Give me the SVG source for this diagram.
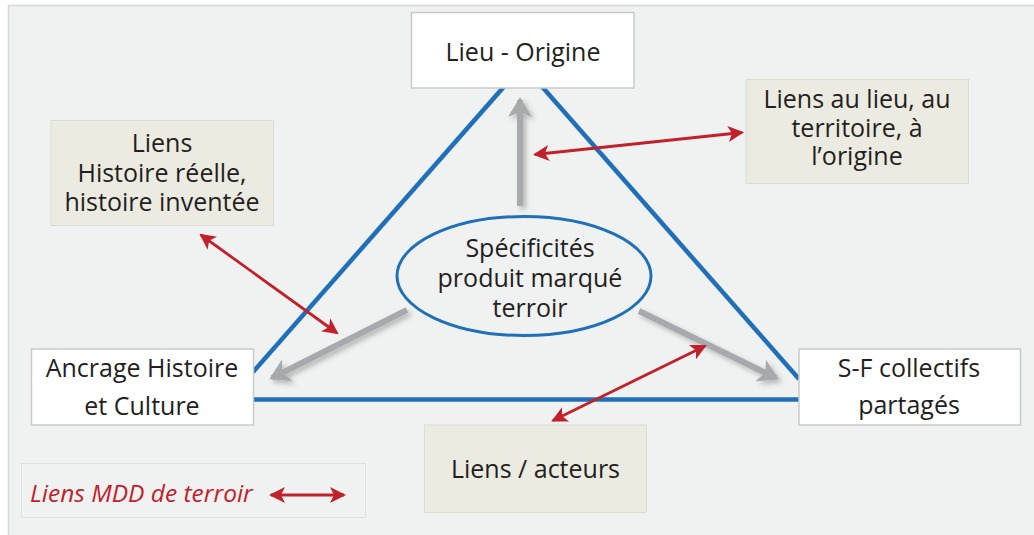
<svg xmlns="http://www.w3.org/2000/svg" width="1034" height="535" viewBox="0 0 1034 535">
<defs>
<style>
.txt{font-family:"Open Sans","Noto Sans",sans-serif;font-size:25px;fill:#231f20;text-anchor:middle}
.box{fill:#ffffff;stroke:#c9cacb;stroke-width:1.5}
.beige{fill:#ecebe2;stroke:#dcdcd6;stroke-width:1}
.tri{stroke:#1f70b9;stroke-width:4.5;fill:none}
.gray{stroke:#a7a9ac;stroke-width:6;fill:none;filter:url(#sh)}
.red{stroke:#c1212b;stroke-width:2.8;fill:none;marker-start:url(#ra);marker-end:url(#ra)}
</style>
<marker id="ra" viewBox="0 0 16 16" refX="14" refY="8" markerWidth="16" markerHeight="16" markerUnits="userSpaceOnUse" orient="auto-start-reverse">
<path d="M0,0 L16,8 L0,16 L4,8 Z" fill="#c1212b"/>
</marker>
<marker id="ga" viewBox="0 0 20 24" refX="17" refY="12" markerWidth="20" markerHeight="24" markerUnits="userSpaceOnUse" orient="auto">
<path d="M0,0 L20,12 L0,24 L5,12 Z" fill="#a7a9ac"/>
</marker>
<filter id="sh" filterUnits="userSpaceOnUse" x="0" y="0" width="1034" height="535">
<feDropShadow dx="3" dy="3" stdDeviation="2.5" flood-color="#000" flood-opacity="0.25"/>
</filter>
</defs>
<rect x="0" y="0" width="1034" height="535" fill="#ffffff"/>
<rect x="8.5" y="5.5" width="1040" height="540" fill="#f0f1f1" stroke="#d6d7d7" stroke-width="1.5"/>

<g id="connectors">
<g id="triangle">
<line class="tri" x1="253" y1="372" x2="523" y2="65"/>
<line class="tri" x1="523" y1="65" x2="799" y2="379"/>
<line class="tri" x1="253" y1="399.5" x2="799" y2="399.5"/>
</g>
<g id="gray-arrows">
<line class="gray" x1="520" y1="206" x2="520" y2="100" marker-end="url(#ga)"/>
<line class="gray" x1="407" y1="310" x2="272" y2="378" marker-end="url(#ga)"/>
<line class="gray" x1="639" y1="311" x2="776" y2="378" marker-end="url(#ga)"/>
</g>
<g id="red-arrows">
<line class="red" x1="535" y1="154.5" x2="742" y2="132.5"/>
<line class="red" x1="201" y1="235" x2="337" y2="333"/>
<line class="red" x1="553" y1="420.5" x2="705" y2="346"/>
</g>
</g>

<g id="node-centre">
<ellipse cx="524" cy="276" rx="127" ry="59.5" fill="none" stroke="#1f70b9" stroke-width="3"/>
<text class="txt" x="530" y="257">Spécificités</text>
<text class="txt" x="530" y="287">produit marqué</text>
<text class="txt" x="530" y="317">terroir</text>
</g>

<g id="node-lieu">
<rect class="box" x="411.5" y="12.5" width="222.5" height="75.5"/>
<text class="txt" x="523" y="61">Lieu - Origine</text>
</g>

<g id="node-ancrage">
<rect class="box" x="31.5" y="349" width="222" height="76"/>
<text class="txt" x="142" y="377">Ancrage Histoire</text>
<text class="txt" x="142" y="415">et Culture</text>
</g>

<g id="node-sf">
<rect class="box" x="799" y="349" width="221.5" height="76"/>
<text class="txt" x="909" y="377">S-F collectifs</text>
<text class="txt" x="909" y="414">partagés</text>
</g>

<g id="node-liens-lieu">
<rect class="beige" x="746" y="79.5" width="222.5" height="104"/>
<text class="txt" x="857" y="108">Liens au lieu, au</text>
<text class="txt" x="857" y="137">territoire, à</text>
<text class="txt" x="857" y="165">l’origine</text>
</g>

<g id="node-liens-histoire">
<rect class="beige" x="51" y="120.5" width="222.5" height="105"/>
<text class="txt" x="162" y="152">Liens</text>
<text class="txt" x="162" y="181.5">Histoire réelle,</text>
<text class="txt" x="162" y="211">histoire inventée</text>
</g>

<g id="node-liens-acteurs">
<rect class="beige" x="424.5" y="425" width="222" height="87.5"/>
<text class="txt" x="535.5" y="478">Liens / acteurs</text>
</g>

<g id="legend">
<rect x="21.5" y="463.5" width="344" height="54" fill="#f0f1f1" stroke="#dfe0e0" stroke-width="1"/>
<text x="30" y="502" style="font-family:'Open Sans','Noto Sans',sans-serif;font-size:24.5px;font-style:italic;fill:#c1212b">Liens MDD de terroir</text>
<line class="red" x1="271" y1="495" x2="344" y2="495" stroke-width="3"/>
</g>
</svg>
